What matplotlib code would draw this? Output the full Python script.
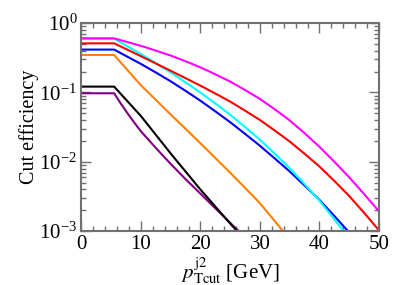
#!/usr/bin/env python3
# -*- coding: utf-8 -*-
"""Cut efficiency vs. second-jet pT cut"""

import numpy as np
import matplotlib
matplotlib.use("Agg")
import matplotlib.pyplot as plt
from matplotlib.ticker import LogLocator, MultipleLocator, NullFormatter

plt.rcParams['font.family'] = ['Liberation Serif', 'DejaVu Serif']
plt.rcParams['mathtext.fontset'] = 'stix'

# values, given as log10(efficiency)
x_long = [0, 5.5, 7.75, 10, 12.5, 15, 17.5, 20, 22.5, 25, 27.5, 30,
          32.5, 35, 37.5, 40, 42.5, 45, 47.5, 50]
log_magenta = [-0.220, -0.220, -0.274, -0.328, -0.396, -0.468, -0.550, -0.638,
               -0.738, -0.843, -0.964, -1.093, -1.243, -1.403, -1.587, -1.783,
               -1.998, -2.223, -2.464, -2.713]
log_red = [-0.292, -0.292, -0.384, -0.477, -0.582, -0.687, -0.794, -0.902,
           -1.015, -1.132, -1.262, -1.397, -1.549, -1.707, -1.884, -2.067,
           -2.275, -2.492, -2.735, -2.987]
log_blue = [-0.382, -0.382, -0.486, -0.589, -0.712, -0.839, -0.977, -1.119,
            -1.272, -1.429, -1.597, -1.769, -1.952, -2.139, -2.342, -2.549,
            -2.780, -3.019, -3.289, -3.569]

x_cyan = [0, 5.5, 7.75, 10, 12.5, 15, 17.5, 20, 22.5, 25, 27.5, 30,
          32.5, 35, 37.5, 40, 42.5, 45]
log_cyan = [-0.225, -0.225, -0.335, -0.446, -0.577, -0.711, -0.854, -1.001,
            -1.158, -1.321, -1.498, -1.681, -1.883, -2.091, -2.322, -2.561,
            -2.827, -3.101]

x_orange = [0, 5.5, 7.75, 10, 12.5, 15, 17.5, 20, 22.5, 25, 27.5, 30, 32.5, 35]
log_orange = [-0.460, -0.460, -0.678, -0.897, -1.107, -1.317, -1.524, -1.732,
              -1.944, -2.157, -2.375, -2.597, -2.855, -3.120]

x_black = [0, 5.5, 7.75, 10, 12.5, 15, 17.5, 20, 22.5, 25, 27.5]
log_black = [-0.916, -0.916, -1.128, -1.340, -1.610, -1.880, -2.140, -2.400,
             -2.645, -2.890, -3.128]

x_purple = [0, 5.5, 6.5, 7.5, 8.75, 10, 12.5, 15, 17.5, 20, 22.5, 25, 27.5]
log_purple = [-1.012, -1.012, -1.145, -1.270, -1.420, -1.560, -1.800, -2.030,
              -2.250, -2.460, -2.670, -2.880, -3.090]

fig = plt.figure(figsize=(4.07, 2.85), dpi=100)
ax = fig.add_axes([0.200, 0.189, 0.731, 0.730])

lw = 1.5
ax.plot(x_purple, 10 ** np.array(log_purple), color='#800080', lw=lw)
ax.plot(x_black, 10 ** np.array(log_black), color='black', lw=lw)
ax.plot(x_orange, 10 ** np.array(log_orange), color='#ff8000', lw=lw)
ax.plot(x_long, 10 ** np.array(log_blue), color='#0000ff', lw=lw)
ax.plot(x_cyan, 10 ** np.array(log_cyan), color='#00ffff', lw=lw)
ax.plot(x_long, 10 ** np.array(log_red), color='#ff0000', lw=lw)
ax.plot(x_long, 10 ** np.array(log_magenta), color='#ff00ff', lw=lw)

ax.set_yscale('log')
ax.set_xlim(0, 50)
ax.set_ylim(1e-3, 1)

ax.xaxis.set_major_locator(MultipleLocator(10))
ax.xaxis.set_minor_locator(MultipleLocator(2))
ax.yaxis.set_major_locator(LogLocator(base=10, numticks=10))
ax.yaxis.set_minor_locator(LogLocator(base=10, subs=range(2, 10), numticks=10))
ax.yaxis.set_minor_formatter(NullFormatter())

spine_col = '#707070'
for s in ax.spines.values():
    s.set_color(spine_col)
    s.set_linewidth(1.5)
ax.tick_params(which='both', direction='in', top=True, right=True,
               color=spine_col, width=1.0, labelsize=15, pad=3)
ax.tick_params(which='major', length=7)
ax.tick_params(which='minor', length=3.5)

ax.set_xlabel(r'$p_{\rm Tcut}^{\rm j2}$ [GeV]', fontsize=15, labelpad=1)
ax.set_ylabel('Cut efficiency', fontsize=14.5, labelpad=0)

fig.savefig('out.png', dpi=100)
